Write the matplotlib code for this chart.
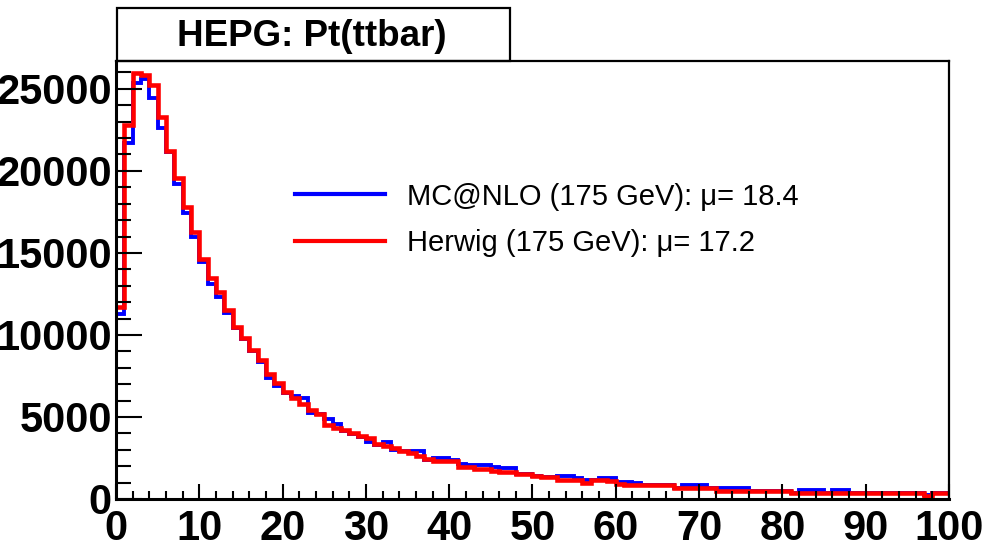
import numpy as np
import matplotlib
matplotlib.use("Agg")
import matplotlib.pyplot as plt
from matplotlib.patches import Rectangle
from matplotlib.ticker import MultipleLocator

# Pt(ttbar) histograms, 1 GeV bins from 0 to 100
bin_edges = np.arange(0, 101, 1)

mcatnlo = [
    11300, 21700, 25350, 25600, 24450, 22600, 21150, 19200, 17450, 15950,
    14450, 13100, 12300, 11350, 10450, 9750, 9050, 8350, 7350, 6900,
    6450, 6250, 6150, 5250, 5200, 4900, 4600, 4150, 3950, 3800,
    3450, 3300, 3500, 3000, 2950, 2950, 2900, 2400, 2500, 2500,
    2400, 2150, 2100, 2050, 2050, 1950, 1880, 1880, 1530, 1530,
    1380, 1310, 1310, 1400, 1400, 1250, 1150, 1160, 1260, 1260,
    1050, 1020, 1000, 830, 830, 830, 830, 640, 870, 870,
    870, 640, 690, 690, 690, 690, 490, 490, 490, 490,
    490, 370, 530, 530, 530, 370, 530, 530, 370, 370,
    370, 370, 370, 370, 370, 370, 370, 250, 360, 360,
]

herwig = [
    11700, 22800, 25950, 25850, 25250, 23300, 21200, 19550, 17800, 16250,
    14650, 13450, 12600, 11500, 10500, 9800, 9100, 8450, 7600, 7050,
    6500, 6150, 5800, 5450, 5200, 4500, 4350, 4200, 4000, 3850,
    3700, 3350, 3250, 3100, 2950, 2800, 2650, 2450, 2330, 2330,
    2330, 1970, 1950, 1800, 1800, 1700, 1660, 1660, 1550, 1550,
    1400, 1330, 1330, 1180, 1180, 1180, 950, 1180, 1150, 1100,
    900, 880, 880, 850, 850, 850, 850, 650, 650, 650,
    650, 650, 500, 500, 500, 500, 500, 500, 500, 500,
    500, 380, 380, 380, 380, 380, 380, 380, 380, 380,
    380, 380, 380, 380, 380, 380, 380, 200, 380, 380,
]

labels = ["MC@NLO (175 GeV): \u03bc= 18.4", "Herwig (175 GeV): \u03bc= 17.2"]

plt.rcParams["font.family"] = ["Liberation Sans", "DejaVu Sans"]

fig = plt.figure(figsize=(9.82, 5.51), dpi=100)
ax = fig.add_axes([0.1181, 0.0944, 0.8483, 0.7949])

ax.stairs(mcatnlo, bin_edges, color="#0000ff", linewidth=2.8, baseline=None, label=labels[0])
ax.stairs(herwig, bin_edges, color="#ff0000", linewidth=3.3, baseline=None, label=labels[1])

ax.set_xlim(0, 100)
ax.set_ylim(0, 26700)

# ROOT-like axes: ticks inside, none on top/right
ax.xaxis.set_major_locator(MultipleLocator(10))
ax.xaxis.set_minor_locator(MultipleLocator(2))
ax.yaxis.set_major_locator(MultipleLocator(5000))
ax.yaxis.set_minor_locator(MultipleLocator(1000))
ax.tick_params(axis="x", which="major", direction="in", length=11, width=1.5, pad=7,
               labelsize=30)
ax.tick_params(axis="x", which="minor", direction="in", length=6, width=1.5)
ax.tick_params(axis="y", which="major", direction="in", length=19, width=1.5, pad=3,
               labelsize=30)
ax.tick_params(axis="y", which="minor", direction="in", length=11, width=1.5)
for lab in ax.get_xticklabels() + ax.get_yticklabels():
    lab.set_fontweight("bold")
for side in ["left", "bottom"]:
    ax.spines[side].set_linewidth(2.2)
for side in ["top", "right"]:
    ax.spines[side].set_linewidth(1.6)

# title box
fig.patches.append(Rectangle((117 / 982, 1 - 61 / 551), 393 / 982, 53 / 551,
                             transform=fig.transFigure, fill=False,
                             edgecolor="black", linewidth=1.6))
fig.text(312 / 982, 1 - 36 / 551, "HEPG: Pt(ttbar)", ha="center", va="center",
         fontsize=26.5, fontweight="bold")

leg = ax.legend(loc="center left", bbox_to_anchor=(295 / 982, 1 - 220 / 551),
                bbox_transform=fig.transFigure, frameon=False, fontsize=21,
                handlelength=3.1, handletextpad=0.75, labelspacing=0.65,
                borderpad=0, borderaxespad=0)
for line in leg.get_lines():
    line.set_linewidth(3)

fig.savefig("out.png", dpi=100)
